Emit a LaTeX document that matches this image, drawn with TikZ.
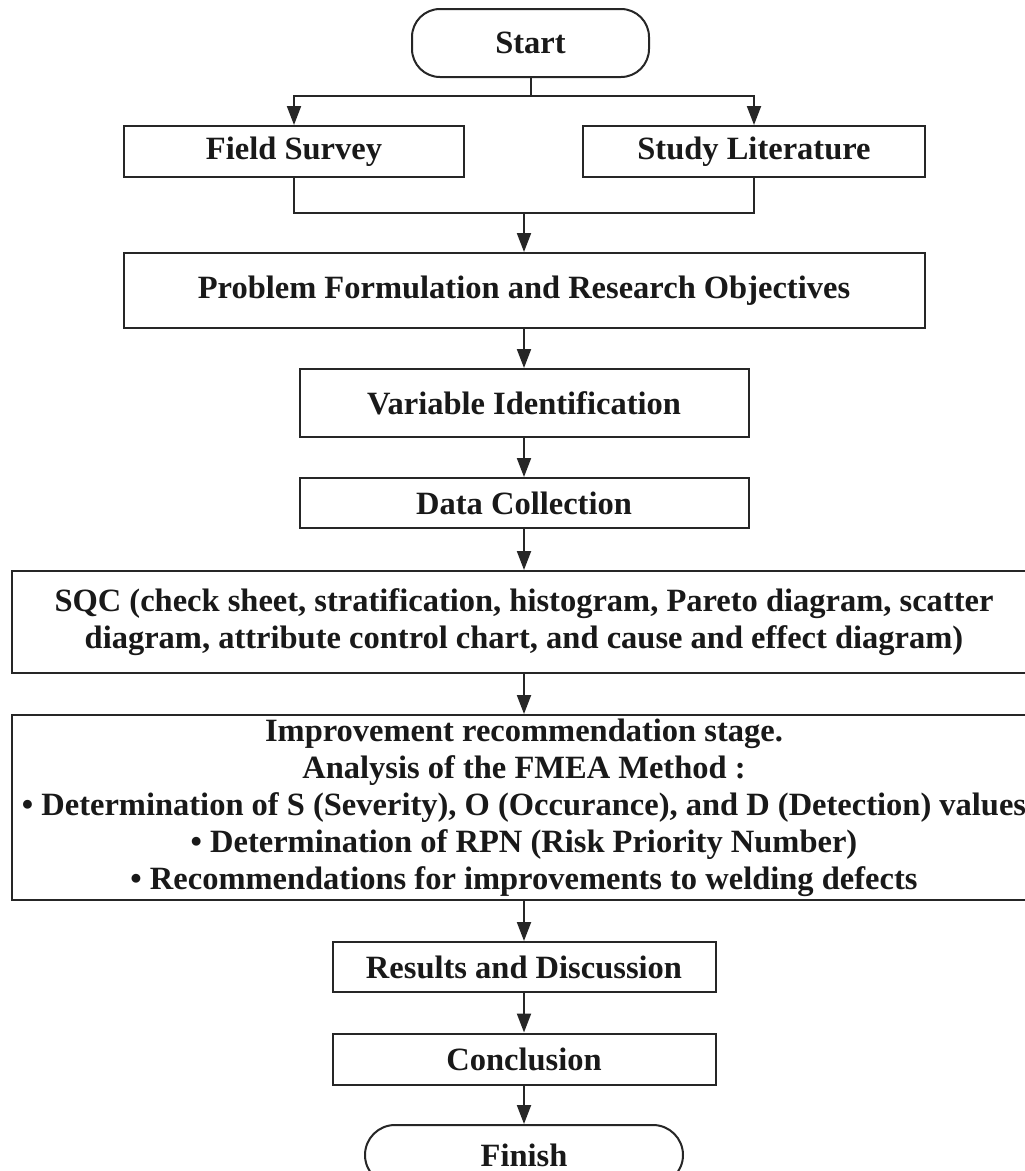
\documentclass[tikz,border=0pt]{standalone}
\usepackage{fontspec}
\setmainfont{Liberation Serif}
\usetikzlibrary{arrows.meta}
\begin{document}
\begin{tikzpicture}[x=1pt,y=-1pt,
  box/.style={draw=black!85, line width=2pt, rectangle, inner sep=0pt, align=center,
    font=\bfseries\fontsize{32.5}{37}\selectfont, text=black!90},
  term/.style={box, rounded corners=28pt},
  arr/.style={draw=black!85, line width=2pt, -{Triangle[length=19pt,width=14pt]}},
  ln/.style={draw=black!85, line width=2pt}]
\useasboundingbox (0,0) rectangle (1025,1171);
\fill[white] (0,0) rectangle (1025,1171);
% nodes
\node[term, minimum width=237pt, minimum height=68pt] (start) at (530.5,43) {Start};
\node[box, minimum width=340pt, minimum height=51pt] (fs) at (294,151.5) {Field Survey};
\node[box, minimum width=342pt, minimum height=51pt] (sl) at (754,151.5) {Study Literature};
\node[box, minimum width=801pt, minimum height=75pt] (pf) at (524,290.5) {Problem Formulation and Research Objectives};
\node[box, minimum width=449pt, minimum height=68pt] (vi) at (524,403) {Variable Identification};
\node[box, minimum width=449pt, minimum height=50pt] (dc) at (524,503) {Data Collection};
\node[box, minimum width=1024pt, minimum height=102pt] (sqc) at (524,622)
  {SQC (check sheet, stratification, histogram, Pareto diagram, scatter\\
   diagram, attribute control chart, and cause and effect diagram)};
\node[box, minimum width=1024pt, minimum height=185pt] (fmea) at (524,807.5)
  {Improvement recommendation stage.\\
   Analysis of the FMEA Method :\\
   • Determination of S (Severity), O (Occurance), and D (Detection) values\\
   • Determination of RPN (Risk Priority Number)\\
   • Recommendations for improvements to welding defects};
\node[box, minimum width=383pt, minimum height=50pt] (res) at (524,967) {Results and Discussion};
\node[box, minimum width=383pt, minimum height=51pt] (con) at (524,1059) {Conclusion};
\node[term, minimum width=318pt, minimum height=60pt, rounded corners=30pt] (fin) at (524,1155) {Finish};
% connectors
\coordinate (b1) at (530.5,96);
\coordinate (m1) at (524,213);
\draw[ln] (start.south) -- (b1);
\draw[arr] (b1) -| (fs.north);
\draw[arr] (b1) -| (sl.north);
\draw[ln] (fs.south) |- (m1);
\draw[ln] (sl.south) |- (m1);
\draw[arr] (m1) -- (pf.north);
\draw[arr] (pf.south) -- (vi.north);
\draw[arr] (vi.south) -- (dc.north);
\draw[arr] (dc.south) -- (sqc.north);
\draw[arr] (sqc.south) -- (fmea.north);
\draw[arr] (fmea.south) -- (res.north);
\draw[arr] (res.south) -- (con.north);
\draw[arr] (con.south) -- (fin.north);
\end{tikzpicture}
\end{document}
